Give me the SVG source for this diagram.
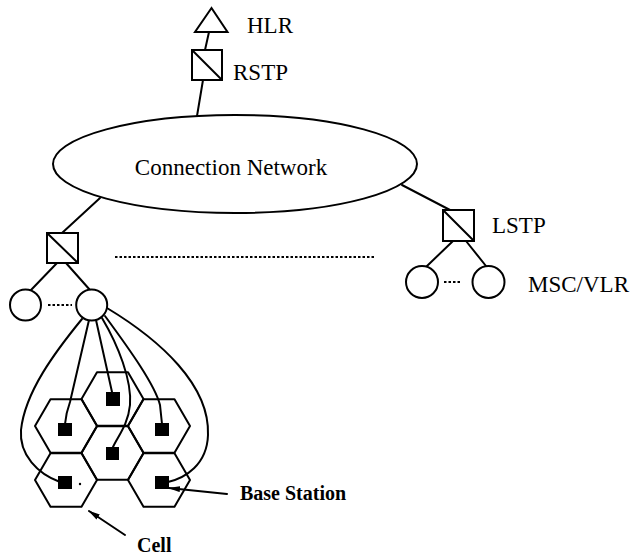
<svg xmlns="http://www.w3.org/2000/svg" xmlns:xlink="http://www.w3.org/1999/xlink" width="634" height="555" viewBox="0 0 634 555">
<style>
.s{fill:none;stroke:#000;stroke-width:2;stroke-linecap:round;stroke-linejoin:round}
.n{fill:#fff;stroke:#000;stroke-width:2}
.d{fill:none;stroke:#000;stroke-width:2;stroke-dasharray:2.5,2}
.bs{fill:#000}
.t{font-family:"Liberation Serif","Times New Roman",serif;font-size:23px;fill:#000}
.tb{font-family:"Liberation Serif","Times New Roman",serif;font-size:20px;font-weight:bold;fill:#000}
</style>
<defs>
<polygon id="hex" points="-31,0 -15.5,-26.85 15.5,-26.85 31,0 15.5,26.85 -15.5,26.85" fill="none" stroke="#000" stroke-width="2" stroke-linejoin="round"/>
<marker id="ah" viewBox="0 0 12 6" refX="11" refY="3" markerWidth="12" markerHeight="6" markerUnits="userSpaceOnUse" orient="auto">
<path d="M0,0 L12,3 L0,6 z" fill="#000"/>
</marker>
</defs>
<g id="connectors">
<line class="s" x1="209" y1="32" x2="205" y2="50"/>
<line class="s" x1="203" y1="80" x2="197" y2="116"/>
<line class="s" x1="62" y1="233" x2="100" y2="198"/>
<line class="s" x1="450" y1="210" x2="402" y2="185"/>
<line class="s" x1="57" y1="263" x2="31" y2="290"/>
<line class="s" x1="66" y1="263" x2="90" y2="290"/>
<line class="s" x1="453" y1="241" x2="427" y2="266"/>
<line class="s" x1="466" y1="241" x2="486" y2="266"/>
<line class="d" x1="48" y1="305" x2="72" y2="305"/>
<line class="d" x1="444" y1="282" x2="462" y2="282"/>
<line class="d" x1="115" y1="257" x2="376" y2="257"/>
<path class="s" d="M82,319 C55,352 25,392 21,430 C19,455 38,474 60,482"/>
<path class="s" d="M89,320 L70,402 Q66,413 65,424"/>
<path class="s" d="M96,320 L112,392"/>
<path class="s" d="M102,318 C118,345 132,380 130,405 C128,425 118,436 113,447"/>
<path class="s" d="M105,316 C130,350 155,385 160,405 L162,424"/>
<path class="s" d="M107,308 C160,340 210,385 208,435 C207,465 185,478 168,482"/>
<line class="s" x1="227" y1="494" x2="169" y2="488" marker-end="url(#ah)"/>
<line class="s" x1="125" y1="535" x2="89" y2="511" marker-end="url(#ah)"/>
</g>
<g id="hlr">
<polygon class="n" points="211.5,8 195,32 227.5,32"/>
<text class="t" x="247" y="33">HLR</text>
</g>
<g id="rstp">
<rect class="n" x="192" y="50" width="30" height="30"/>
<line class="s" x1="192" y1="50" x2="222" y2="80"/>
<text class="t" x="233" y="80">RSTP</text>
</g>
<g id="network">
<ellipse class="n" cx="235" cy="164" rx="182" ry="49"/>
<text class="t" x="231" y="175" text-anchor="middle">Connection Network</text>
</g>
<g id="stp-left">
<rect class="n" x="47" y="233" width="31" height="30"/>
<line class="s" x1="47" y1="233" x2="78" y2="263"/>
</g>
<g id="lstp">
<rect class="n" x="443" y="210" width="31" height="31"/>
<line class="s" x1="443" y1="210" x2="474" y2="241"/>
<text class="t" x="492" y="233">LSTP</text>
</g>
<g id="msc-left-1"><circle class="n" cx="25.5" cy="305" r="15.5"/></g>
<g id="msc-left-2"><circle class="n" cx="91.7" cy="305" r="15.5"/></g>
<g id="msc-right-1"><circle class="n" cx="422" cy="282" r="16"/></g>
<g id="msc-right-2">
<circle class="n" cx="488.5" cy="282" r="16"/>
<text class="t" x="528" y="292">MSC/VLR</text>
</g>
<g id="cells">
<use xlink:href="#hex" x="112.5" y="399"/>
<use xlink:href="#hex" x="66" y="426"/>
<use xlink:href="#hex" x="159" y="426"/>
<use xlink:href="#hex" x="112.5" y="453"/>
<use xlink:href="#hex" x="66" y="480"/>
<use xlink:href="#hex" x="159" y="480"/>
</g>
<g id="base-stations">
<rect class="bs" x="106" y="392" width="14" height="14"/>
<rect class="bs" x="58" y="423" width="14" height="13"/>
<rect class="bs" x="155" y="423" width="14" height="13"/>
<rect class="bs" x="106" y="447" width="13" height="13"/>
<rect class="bs" x="58" y="476" width="14" height="13"/>
<rect class="bs" x="155" y="476" width="14" height="13"/>
<circle cx="80" cy="484" r="1.2" fill="#000"/>
</g>
<g id="label-base-station"><text class="tb" x="240" y="500">Base Station</text></g>
<g id="label-cell"><text class="tb" x="137" y="552">Cell</text></g>
</svg>
